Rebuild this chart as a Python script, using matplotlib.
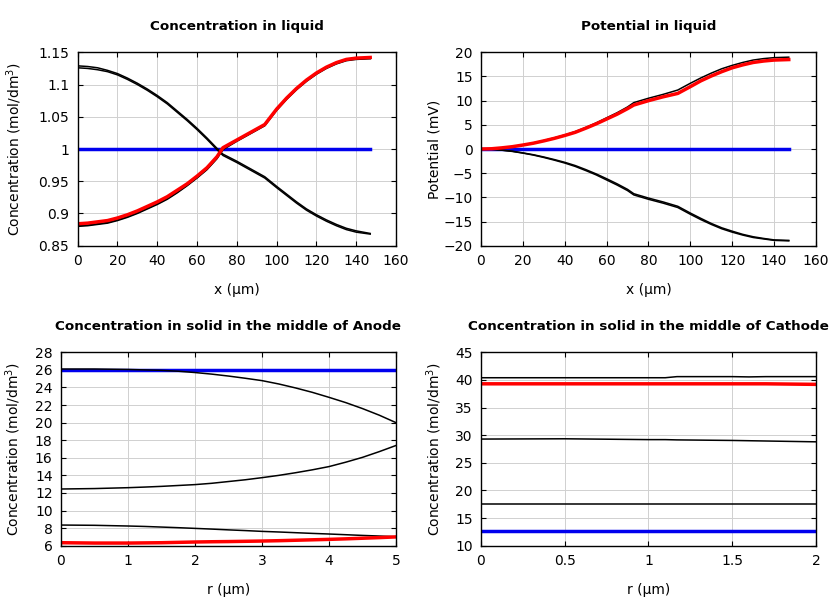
import numpy as np
import matplotlib
matplotlib.use("Agg")
import matplotlib.pyplot as plt

# liquid concentration (mol/dm3) vs x (um)
x_liq = [0, 5, 10, 15, 20, 25, 30, 35, 40, 45, 50, 55, 60, 65, 70, 73, 80, 87, 94,
         100, 105, 110, 115, 120, 125, 130, 135, 140, 147]
c_liq_down_a = [1.129, 1.128, 1.126, 1.122, 1.117, 1.110, 1.102, 1.093, 1.083, 1.072, 1.059, 1.046,
                1.032, 1.017, 1.001, 0.992, 0.981, 0.969, 0.957, 0.942, 0.930, 0.918, 0.907,
                0.898, 0.890, 0.883, 0.877, 0.873, 0.869]
c_liq_down_b = [1.126, 1.125, 1.123, 1.120, 1.115, 1.108, 1.100, 1.091, 1.081, 1.070, 1.057, 1.044,
                1.030, 1.015, 0.999, 0.990, 0.979, 0.967, 0.955, 0.940, 0.928, 0.916, 0.905,
                0.896, 0.888, 0.881, 0.875, 0.871, 0.868]
c_liq_up_a = [0.881, 0.882, 0.884, 0.886, 0.890, 0.895, 0.901, 0.908, 0.915, 0.923, 0.933, 0.944,
              0.956, 0.969, 0.986, 1.000, 1.013, 1.025, 1.037, 1.061, 1.078, 1.093, 1.106,
              1.117, 1.126, 1.133, 1.138, 1.140, 1.141]
c_liq_up_b = [0.880, 0.881, 0.883, 0.885, 0.889, 0.894, 0.900, 0.907, 0.914, 0.922, 0.932, 0.943,
              0.955, 0.968, 0.985, 0.999, 1.012, 1.024, 1.036, 1.060, 1.077, 1.092, 1.105,
              1.116, 1.125, 1.132, 1.137, 1.139, 1.140]
c_liq_red = [0.884, 0.885, 0.887, 0.889, 0.893, 0.898, 0.904, 0.911, 0.918, 0.926, 0.936, 0.946,
             0.958, 0.971, 0.988, 1.002, 1.014, 1.026, 1.038, 1.062, 1.079, 1.094, 1.107,
             1.118, 1.127, 1.134, 1.139, 1.141, 1.142]
c_liq_init = [1.0] * len(x_liq)

# liquid potential (mV)
phi_up_a = [0.0, 0.05, 0.25, 0.5, 0.85, 1.25, 1.75, 2.3, 2.9, 3.6, 4.45, 5.4, 6.45, 7.5, 8.7, 9.6,
            10.5, 11.3, 12.2, 13.6, 14.7, 15.7, 16.6, 17.3, 17.9, 18.4, 18.7, 18.9, 19.0]
phi_up_red = [0.0, 0.05, 0.24, 0.48, 0.82, 1.2, 1.68, 2.2, 2.8, 3.45, 4.3, 5.2, 6.2, 7.2, 8.35, 9.1,
              10.0, 10.8, 11.5, 12.9, 14.1, 15.1, 16.0, 16.8, 17.4, 17.9, 18.2, 18.4, 18.5]
phi_down_a = [0.0, -0.05, -0.25, -0.5, -0.85, -1.25, -1.75, -2.3, -2.9, -3.6, -4.45, -5.35, -6.4,
              -7.45, -8.6, -9.5, -10.4, -11.2, -12.1, -13.5, -14.6, -15.6, -16.5, -17.2, -17.8,
              -18.3, -18.6, -18.9, -19.0]
phi_down_b = [0.0, -0.05, -0.23, -0.46, -0.8, -1.18, -1.65, -2.18, -2.75, -3.42, -4.25, -5.15, -6.15,
              -7.2, -8.35, -9.25, -10.15, -10.95, -11.85, -13.25, -14.35, -15.4, -16.3, -17.0, -17.65,
              -18.15, -18.5, -18.8, -18.9]
phi_init = [0.0] * len(x_liq)

# anode particle (mol/dm3) vs r (um)
r_an = [0, 0.5, 1, 1.25, 1.5, 1.75, 2, 2.25, 2.5, 2.75, 3, 3.25, 3.5, 3.75, 4, 4.25, 4.5, 4.75, 5]
an_top = [26.1, 26.1, 26.05, 26.0, 25.95, 25.85, 25.7, 25.52, 25.3, 25.05, 24.78, 24.4, 23.95,
          23.45, 22.88, 22.28, 21.6, 20.85, 20.0]
an_mid = [12.45, 12.5, 12.6, 12.67, 12.75, 12.85, 12.95, 13.1, 13.3, 13.5, 13.74, 14.0, 14.3,
          14.63, 15.0, 15.5, 16.05, 16.7, 17.4]
an_low = [8.35, 8.32, 8.24, 8.19, 8.12, 8.05, 7.97, 7.89, 7.8, 7.72, 7.63, 7.56, 7.48, 7.4, 7.33,
          7.25, 7.17, 7.1, 7.02]
an_red = [6.34, 6.3, 6.3, 6.32, 6.34, 6.38, 6.42, 6.45, 6.47, 6.5, 6.53, 6.57, 6.62, 6.67, 6.72,
          6.78, 6.85, 6.92, 7.0]
an_init = [26.0] * len(r_an)

# cathode particle (mol/dm3)
r_ca = [0, 0.5, 1, 1.1, 1.17, 1.5, 1.6, 1.7, 2]
ca_top = [40.4, 40.4, 40.4, 40.4, 40.6, 40.6, 40.55, 40.6, 40.6]
ca_red = [39.3, 39.3, 39.3, 39.3, 39.3, 39.3, 39.3, 39.3, 39.2]
ca_mid = [29.3, 29.35, 29.2, 29.2, 29.15, 29.05, 29.0, 28.95, 28.8]
ca_low = [17.5, 17.5, 17.5, 17.5, 17.5, 17.5, 17.5, 17.5, 17.5]
ca_init = [12.65] * len(r_ca)

fig = plt.figure(figsize=(8.4, 6.0), dpi=100)
ax1 = fig.add_axes([0.0925, 0.5905, 0.379, 0.3223])
ax2 = fig.add_axes([0.5726, 0.5905, 0.3988, 0.3223])
ax3 = fig.add_axes([0.0726, 0.0905, 0.3988, 0.3223])
ax4 = fig.add_axes([0.5726, 0.0905, 0.3988, 0.3223])

blk = dict(color='black', lw=1.1)
red = dict(color='red', lw=2.5)
blu = dict(color='#0000ee', lw=2.5)
tfont = dict(fontweight='bold', fontsize=9.7, pad=16)

# top left
ax1.plot(x_liq, c_liq_init, **blu)
ax1.plot(x_liq, c_liq_down_a, **blk)
ax1.plot(x_liq, c_liq_down_b, **blk)
ax1.plot(x_liq, c_liq_up_a, **blk)
ax1.plot(x_liq, c_liq_up_b, **blk)
ax1.plot(x_liq, c_liq_red, **red)
ax1.set_xlim(0, 160)
ax1.set_ylim(0.85, 1.15)
ax1.set_yticks(np.arange(0.85, 1.151, 0.05))
ax1.set_yticklabels(['0.85', '0.9', '0.95', '1', '1.05', '1.1', '1.15'])
ax1.set_xticks(range(0, 161, 20))
ax1.set_xlabel('x (µm)')
ax1.set_ylabel('Concentration (mol/dm$^3$)')
ax1.yaxis.set_label_coords(-0.168, 0.5)
ax1.set_title('Concentration in liquid', **tfont)

# top right
ax2.plot(x_liq, phi_init, **blu)
ax2.plot(x_liq, phi_up_a, **blk)
ax2.plot(x_liq, phi_down_a, **blk)
ax2.plot(x_liq, phi_down_b, **blk)
ax2.plot(x_liq, phi_up_red, **red)
ax2.set_xlim(0, 160)
ax2.set_ylim(-20, 20)
ax2.set_yticks(range(-20, 21, 5))
ax2.set_xticks(range(0, 161, 20))
ax2.set_xlabel('x (µm)')
ax2.set_ylabel('Potential (mV)')
ax2.yaxis.set_label_coords(-0.119, 0.5)
ax2.set_title('Potential in liquid', **tfont)

# bottom left
ax3.plot(r_an, an_init, **blu)
ax3.plot(r_an, an_top, **blk)
ax3.plot(r_an, an_mid, **blk)
ax3.plot(r_an, an_low, **blk)
ax3.plot(r_an, an_red, **red)
ax3.set_xlim(0, 5)
ax3.set_ylim(6, 28)
ax3.set_yticks(range(6, 29, 2))
ax3.set_xlabel('r (µm)')
ax3.set_ylabel('Concentration (mol/dm$^3$)')
ax3.yaxis.set_label_coords(-0.112, 0.5)
ax3.set_title('Concentration in solid in the middle of Anode', **tfont)

# bottom right
ax4.plot(r_ca, ca_init, **blu)
ax4.plot(r_ca, ca_top, **blk)
ax4.plot(r_ca, ca_mid, **blk)
ax4.plot(r_ca, ca_low, **blk)
ax4.plot(r_ca, ca_red, **red)
ax4.set_xlim(0, 2)
ax4.set_ylim(10, 45)
ax4.set_yticks(range(10, 46, 5))
ax4.set_xticks([0, 0.5, 1, 1.5, 2])
ax4.set_xticklabels(['0', '0.5', '1', '1.5', '2'])
ax4.set_xlabel('r (µm)')
ax4.set_ylabel('Concentration (mol/dm$^3$)')
ax4.yaxis.set_label_coords(-0.109, 0.5)
ax4.set_title('Concentration in solid in the middle of Cathode', **tfont)

for ax in (ax1, ax2, ax3, ax4):
    ax.grid(True, color='#d0d0d0', lw=0.7)
    ax.set_axisbelow(True)
    ax.tick_params(direction='in', top=True, right=True, labelsize=10, pad=6)
    for s in ax.spines.values():
        s.set_linewidth(1.0)
    ax.xaxis.labelpad = 11

fig.savefig('out.png', dpi=100)
